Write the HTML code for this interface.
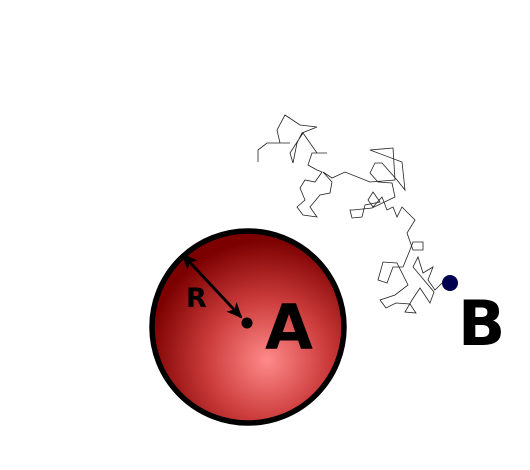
<!DOCTYPE html>
<html><head><meta charset="utf-8"><style>
html,body{margin:0;padding:0;background:#fff;width:530px;height:470px;overflow:hidden}
text{font-family:"DejaVu Sans","Liberation Sans",sans-serif;font-weight:bold}
</style></head><body>
<svg width="530" height="470" viewBox="0 0 530 470">
<defs>
<radialGradient id="g" cx="267" cy="360" r="120" gradientUnits="userSpaceOnUse">
<stop offset="0" stop-color="#ff8a8a"/>
<stop offset="0.5" stop-color="#cc3c3c"/>
<stop offset="1" stop-color="#7c0000"/>
</radialGradient>
<marker id="ah" markerWidth="16" markerHeight="14" refX="14" refY="7" orient="auto" markerUnits="userSpaceOnUse"><path d="M0,0 L16,7 L0,14 L4,7 z" fill="#000"/></marker>
<marker id="ah2" markerWidth="16" markerHeight="14" refX="2" refY="7" orient="auto" markerUnits="userSpaceOnUse"><path d="M16,0 L0,7 L16,14 L12,7 z" fill="#000"/></marker>
</defs>
<polyline fill="none" stroke="#222" stroke-width="0.8" points="
442,283 435,290 428,280 433,267 423,273 418,257 413,267 434,292 430,303 420,288 412,300 405,312 416,313 410,304 396,303 386,308 380,300 395,295 408,285 397,263 383,262 378,280 387,283 393,267 403,267 410,250 413,242 423,242 423,250 413,250 407,233 415,220 402,207 397,217 393,207 387,210 382,197 373,207 368,200 373,192 380,202 365,205 362,217 352,218 350,210 353,210 372,208 395,197 392,183 378,182 370,173 375,163 382,163 397,180 405,190 402,162 370,150 393,148 395,180 370,182 345,172 332,178 323,172 332,182 330,193 320,195 310,207 317,217 303,215 297,207 305,200 300,188 305,180 315,182 322,172 317,170 308,165 312,153 327,153 317,153 303,133 290,153 293,163 297,143 302,133 317,127 300,125 285,115 277,130 280,143 290,143 267,143 258,150 258,162"/>
<circle cx="248" cy="327" r="96" fill="url(#g)" stroke="#000" stroke-width="5.5"/>
<line x1="241" y1="317" x2="183" y2="255" stroke="#000" stroke-width="2.8" marker-end="url(#ah)" marker-start="url(#ah2)"/>
<circle cx="247" cy="323" r="5.5" fill="#000"/>
<text x="186" y="307" font-size="27">R</text>
<text x="265" y="349" font-size="62">A</text>
<circle cx="450" cy="283" r="8" fill="#000050"/>
<text x="458" y="345" font-size="62">B</text>
</svg>
</body></html>
